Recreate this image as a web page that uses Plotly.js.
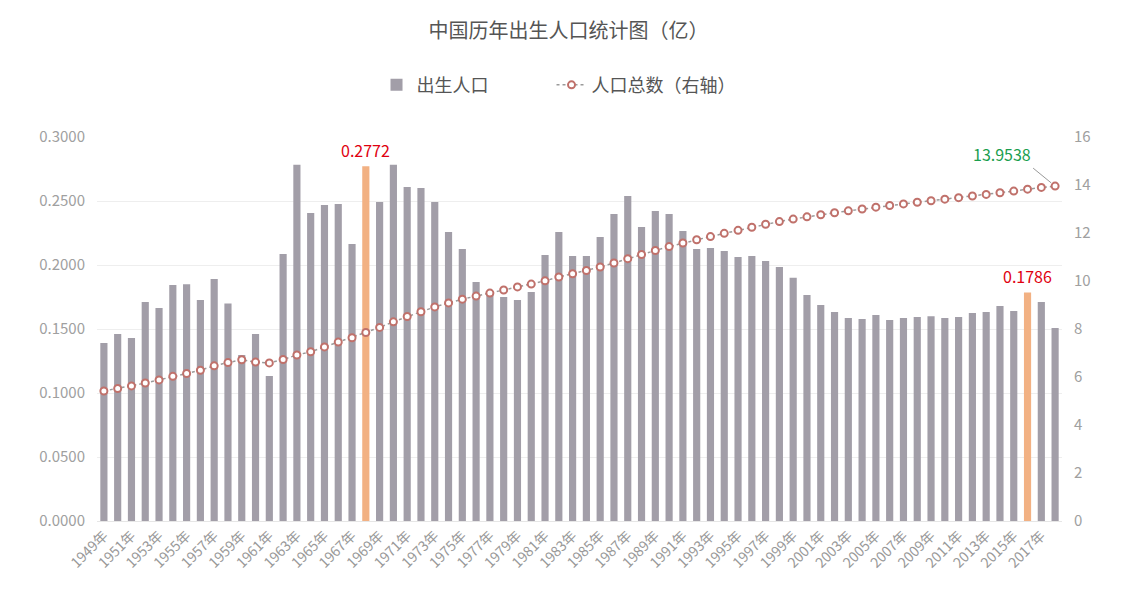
<!DOCTYPE html>
<html>
<head>
<meta charset="utf-8">
<script src="https://cdn.plot.ly/plotly-3.0.1.min.js"></script>
<style>html,body{margin:0;padding:0;background:#fff;}#chart{width:1137px;height:596px;}</style>
</head>
<body>
<div id="chart"></div>
<script>
const years = [1949,1950,1951,1952,1953,1954,1955,1956,1957,1958,1959,1960,1961,1962,1963,1964,1965,1966,1967,1968,
1969,1970,1971,1972,1973,1974,1975,1976,1977,1978,1979,1980,1981,1982,1983,1984,1985,1986,1987,1988,
1989,1990,1991,1992,1993,1994,1995,1996,1997,1998,1999,2000,2001,2002,2003,2004,2005,2006,2007,2008,
2009,2010,2011,2012,2013,2014,2015,2016,2017,2018];

// 出生人口（亿）
const births = [0.1390,0.1460,0.1430,0.1710,0.1664,0.1844,0.1850,0.1727,0.1890,0.1700,
0.1297,0.1460,0.1133,0.2086,0.2784,0.2406,0.2469,0.2477,0.2164,0.2772,
0.2492,0.2784,0.2610,0.2602,0.2492,0.2258,0.2125,0.1867,0.1780,0.1750,
0.1727,0.1790,0.2078,0.2258,0.2070,0.2070,0.2219,0.2398,0.2539,0.2297,
0.2422,0.2398,0.2266,0.2125,0.2133,0.2109,0.2063,0.2070,0.2031,0.1984,
0.1900,0.1766,0.1688,0.1633,0.1586,0.1578,0.1610,0.1570,0.1586,0.1594,
0.1600,0.1586,0.1594,0.1625,0.1633,0.1680,0.1640,0.1786,0.1710,0.1508];

// 人口总数（亿，右轴）
const population = [5.4167,5.5196,5.6300,5.7482,5.8796,6.0266,6.1465,6.2828,6.4653,6.5994,
6.7207,6.6207,6.5859,6.7295,6.9172,7.0499,7.2538,7.4542,7.6368,7.8534,
8.0671,8.2992,8.5229,8.7177,8.9211,9.0859,9.2420,9.3717,9.4974,9.6259,
9.7542,9.8705,10.0072,10.1654,10.3008,10.4357,10.5851,10.7507,10.9300,11.1026,
11.2704,11.4333,11.5823,11.7171,11.8517,11.9850,12.1121,12.2389,12.3626,12.4761,
12.5786,12.6743,12.7627,12.8453,12.9227,12.9988,13.0756,13.1448,13.2129,13.2802,
13.3450,13.4091,13.4735,13.5404,13.6072,13.6782,13.7462,13.8271,13.9008,13.9538];

const highlightYears = [1968, 2016];

const categories = years.map(y => y + '年');
const tickLabels = categories.filter((c, i) => i % 2 === 0);

const barColors = years.map(y => highlightYears.includes(y) ? '#f2b183' : '#a29ea8');
const FONT = '"Noto Sans CJK SC", "Noto Sans", sans-serif';

const traceBars = {
  type: 'bar', name: '出生人口', x: categories, y: births,
  marker: {color: barColors}, yaxis: 'y', hoverinfo: 'x+y'
};
const traceLine = {
  type: 'scatter', mode: 'lines+markers', name: '人口总数（右轴）',
  x: categories, y: population, yaxis: 'y2',
  line: {color: '#9a9a9a', width: 1.5, dash: 'dot'},
  marker: {symbol: 'circle', size: 7, color: '#ffffff', line: {color: '#c0716b', width: 2}}
};

const annotations = highlightYears.map(y => {
  const i = years.indexOf(y);
  return {x: categories[i], y: births[i], yref: 'y', xref: 'x', text: births[i].toFixed(4),
    showarrow: false, yanchor: 'bottom', yshift: 2, font: {family: FONT, size: 16, color: '#e0000f'}};
});
const last = years.length - 1;
annotations.push({x: categories[last], y: population[last], xref: 'x', yref: 'y2',
  text: population[last].toFixed(4), showarrow: true, arrowhead: 0, arrowwidth: 1, arrowcolor: '#999',
  ax: -22, ay: -18, xanchor: 'right', yanchor: 'bottom', standoff: 5,
  font: {family: FONT, size: 16, color: '#1a9e4e'}});

const layout = {
  width: 1137, height: 596,
  margin: {l: 97, r: 75, t: 137, b: 75},
  paper_bgcolor: '#fff', plot_bgcolor: '#fff',
  font: {family: FONT, color: '#999'},
  title: {text: '中国历年出生人口统计图（亿）', x: 0.5, xanchor: 'center', y: 0.948, yanchor: 'middle',
    font: {family: FONT, size: 20, color: '#555'}, automargin: false},
  showlegend: true,
  legend: {orientation: 'h', x: 0.471, xanchor: 'center', y: 1.135, yanchor: 'middle',
    font: {family: FONT, size: 18, color: '#555'}, itemwidth: 30, entrywidth: 130},
  bargap: 0.48,
  xaxis: {type: 'category', range: [-0.5, years.length - 0.5], tickvals: tickLabels, ticktext: tickLabels, tickangle: -45, automargin: false,
    tickfont: {family: FONT, size: 14, color: '#999'}, showgrid: false, showline: true,
    linecolor: '#e6e6e6', ticks: '', zeroline: false},
  yaxis: {range: [0, 0.3], dtick: 0.05, tick0: 0, tickformat: '.4f', showgrid: true, gridcolor: '#eeeeee', automargin: false,
    zeroline: false, tickfont: {family: FONT, size: 15, color: '#a0a0a0'}, ticks: 'outside', ticklen: 8, tickcolor: 'rgba(0,0,0,0)'},
  yaxis2: {overlaying: 'y', side: 'right', range: [0, 16], dtick: 2, tick0: 0, showgrid: false, zeroline: false, automargin: false,
    tickfont: {family: FONT, size: 15, color: '#a0a0a0'}, ticks: 'outside', ticklen: 8, tickcolor: 'rgba(0,0,0,0)'},
  annotations: annotations
};

Plotly.newPlot('chart', [traceBars, traceLine], layout, {displayModeBar: false});
</script>
</body>
</html>
